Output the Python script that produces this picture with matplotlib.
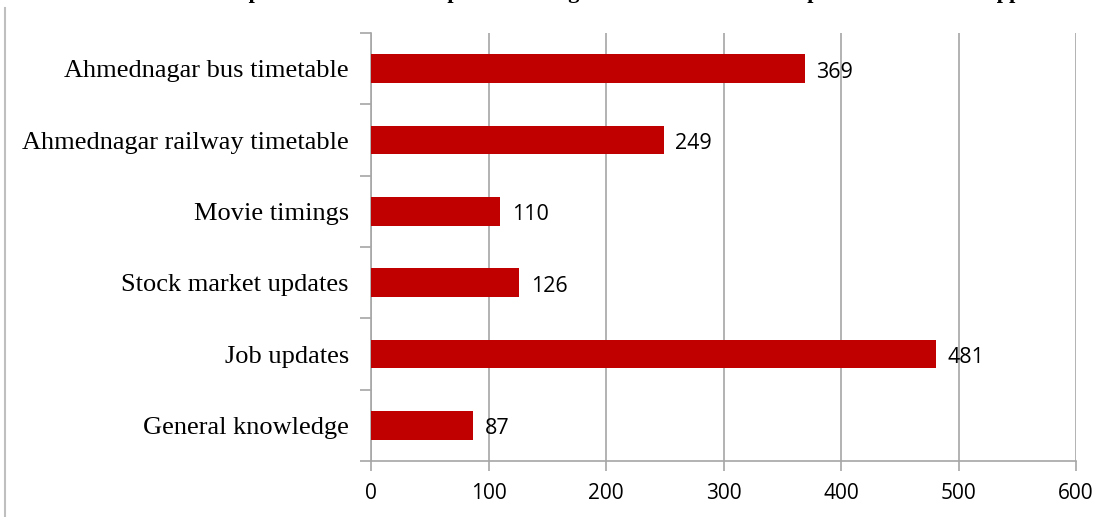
import matplotlib.pyplot as plt
from matplotlib.lines import Line2D

categories = ["General knowledge", "Job updates", "Stock market updates",
              "Movie timings", "Ahmednagar railway timetable", "Ahmednagar bus timetable"]
values = [87, 481, 126, 110, 249, 369]
xticks = [0, 100, 200, 300, 400, 500, 600]
# title is cut off at the top edge in the source; only descenders show
title = "Number of respondents who used updates during the last month on their phone via an SMS app"

fig = plt.figure(figsize=(11.17, 5.17), dpi=100)
ax = fig.add_axes([371 / 1117, 1 - 461 / 517, (1076 - 371) / 1117, (461 - 33) / 517])

grey = "#A6A6A6"
ypos = range(len(categories))
ax.barh(ypos, values, height=0.4, color="#C00000", zorder=3)
for y, v in zip(ypos, values):
    ax.text(v + 10, y - 0.05, str(v), va="center", ha="left", fontsize=15.5,
            family="Open Sans", color="black")

ax.set_xlim(0, 600)
ax.set_ylim(-0.5, len(categories) - 0.5)
ax.set_xticks(xticks)
ax.set_xticklabels([str(t) for t in xticks], family="Open Sans", fontsize=15)
ax.set_yticks(list(ypos))
ax.set_yticklabels(categories, family="Liberation Serif", fontsize=19)
ax.set_yticks([i - 0.5 for i in range(len(categories) + 1)], minor=True)
ax.tick_params(axis="y", which="major", length=0, pad=16)
ax.tick_params(axis="y", which="minor", length=8, color=grey, width=1.2, direction="out")
ax.tick_params(axis="x", length=7, color=grey, width=1.2, direction="out", pad=9)

ax.grid(axis="x", color=grey, linewidth=1.2, zorder=0)
for s in ["top", "right"]:
    ax.spines[s].set_visible(False)
for s in ["left", "bottom"]:
    ax.spines[s].set_color(grey)
    ax.spines[s].set_linewidth(1.2)

fig.add_artist(Line2D([4.5 / 1117, 4.5 / 1117], [0, 1 - 8 / 517],
                      transform=fig.transFigure, color="#BFBFBF", linewidth=1.5))
fig.text(0.507, 1 + 2 / 517, title, ha="center", va="baseline",
         family="Liberation Serif", fontweight="bold", fontsize=16)

fig.savefig("out.png", dpi=100)
